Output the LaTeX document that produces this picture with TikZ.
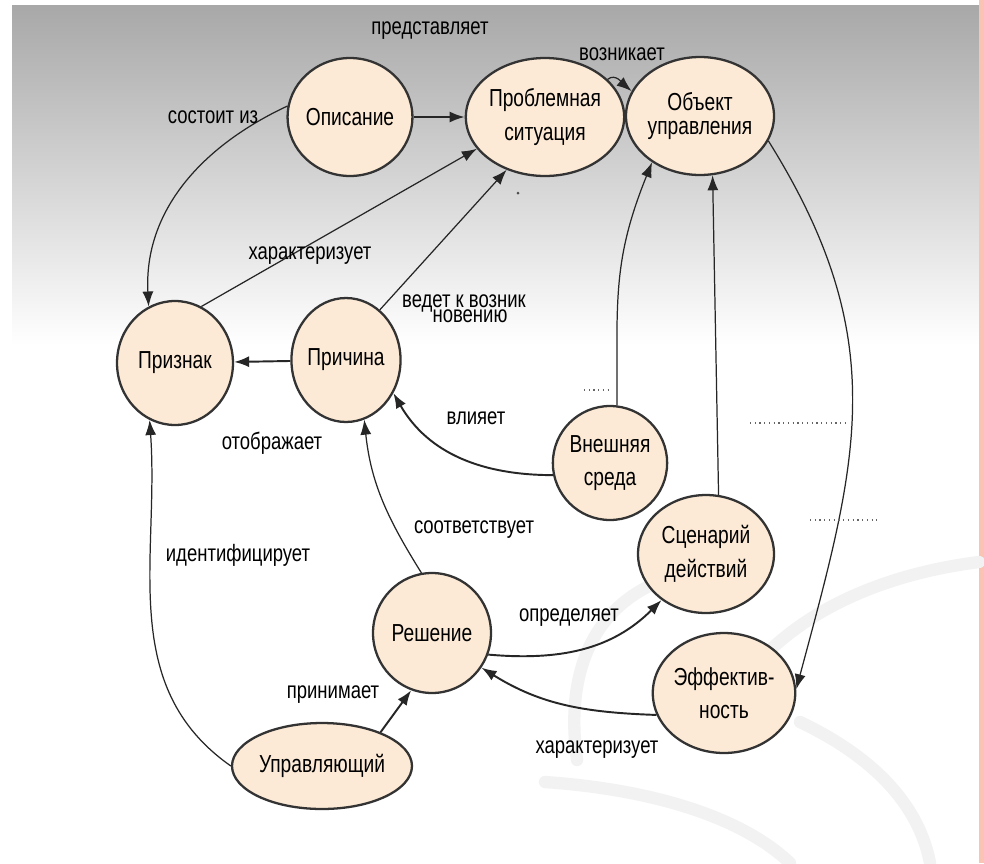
\documentclass[tikz,border=0pt]{standalone}
\usepackage{fontspec}
\setmainfont{Liberation Sans}[FakeStretch=0.78]
\definecolor{conceptfill}{RGB}{252,234,214}
\definecolor{bgtop}{RGB}{168,168,168}
\definecolor{edgepink}{RGB}{250,196,180}
\definecolor{swoosh}{RGB}{242,242,242}
\usetikzlibrary{arrows.meta, shapes.geometric}
\tikzset{
	concept/.style={ellipse, draw=black!80, line width=1.3pt, fill=conceptfill, align=center, inner sep=0pt, font=\fontsize{14}{19}\selectfont},
	lbl/.style={inner sep=0pt, font=\fontsize{13.5}{15}\selectfont},
	arrow/.style={-{Latex[length=3mm, width=2.2mm]}, line width=1.1pt, draw=black!85},
	thinarrow/.style={-{Latex[length=3mm, width=2.2mm]}, line width=0.7pt, draw=black!85},
	strokemark/.style={dotted, line width=0.7pt, draw=black!60},
	swooshline/.style={line width=7pt, draw=swoosh, line cap=round},
}

\begin{document}
\begin{tikzpicture}[x=0.02cm, y=0.02cm]
		\useasboundingbox (0,0) rectangle (984,-863);
		\fill[white] (0,0) rectangle (984,-863);
		\shade[top color=bgtop, bottom color=white] (12,-5) rectangle (979,-345);
		\fill[edgepink] (979,0) rectangle (984,-863);
		\draw[swooshline] (577,-760) .. controls (562,-650) and (610,-585) .. (700,-570);
		\draw[swooshline] (765,-655) .. controls (820,-600) and (900,-572) .. (979,-562);
		\draw[swooshline] (545,-782) .. controls (660,-790) and (745,-820) .. (790,-863);
		\draw[swooshline] (800,-722) .. controls (880,-760) and (920,-810) .. (930,-863);

		\node[concept, minimum width=2.12cm, minimum height=2.36cm] (opis) at (350,-117) {Описание};
		\node[concept, minimum width=2.6cm, minimum height=2.36cm] (prob) at (545,-117) {Проблемная\\ситуация};
		\node[concept, minimum width=2.68cm, minimum height=2.36cm, font=\fontsize{14}{14}\selectfont] (obj) at (700,-116) {Объект\\управления};
		\node[concept, minimum width=2.32cm, minimum height=2.48cm] (priz) at (175,-363) {Признак};
		\node[concept, minimum width=2.16cm, minimum height=2.48cm] (prich) at (346,-360) {Причина};
		\node[concept, minimum width=2.28cm, minimum height=2.28cm] (sreda) at (610,-463) {Внешняя\\среда};
		\node[concept, minimum width=2.72cm, minimum height=2.36cm] (scen) at (706,-554) {Сценарий\\действий};
		\node[concept, minimum width=2.36cm, minimum height=2.4cm] (resh) at (432,-633) {Решение};
		\node[concept, minimum width=3.6cm, minimum height=1.72cm] (upr) at (322,-766) {Управляющий};
		\node[concept, minimum width=2.36cm, minimum height=2.4cm] (eff) at (724,-693) {Эффектив-\\ность};

		\draw[thinarrow] (opis.170) to[out=205, in=93] (priz.115);
		\draw[arrow] (opis) -- (prob);
		\draw[thinarrow] (prob.31) to[out=40, in=140] (obj.160);
		\draw[thinarrow] (priz.65) -- (prob.205);
		\draw[thinarrow] (prich.56) -- (prob.234);
		\draw[arrow] (prich) -- (priz);
		\draw[thinarrow] (sreda.83) to[out=90, in=248, looseness=1.1] (obj.224);
		\draw[arrow] (sreda.192) to[out=180, in=-60] (prich.325);
		\draw[thinarrow] (scen.78) -- (obj.282);
		\draw[thinarrow] (obj.-20) to[out=-58, in=75, looseness=1.1] (eff.3);
		\draw[thinarrow] (resh.100) to[out=122, in=-84] (prich.287);
		\draw[arrow] (resh.-21) to[out=-5, in=225] (scen.226);
		\draw[arrow] (eff.198) to[out=178, in=-32] (resh.325);
		\draw[arrow] (upr.30) -- (resh.250);
		\draw[thinarrow] (upr.west) to[out=145, in=-86] (priz.246);

		\node[lbl] (l-sost) at (213,-117) {состоит из};
		\node[lbl] (l-pred) at (430,-31) {представляет};
		\node[lbl] (l-vozn) at (622,-54) {возникает};
		\node[lbl] (l-char1) at (310,-256) {характеризует};
		\node[lbl] (l-vedet) at (464,-303) {ведет к возник};
		\node[lbl] (l-nov) at (470,-316) {новению};
		\node[lbl] (l-otob) at (272,-443) {отображает};
		\node[lbl] (l-vliyaet) at (476,-418) {влияет};
		\node[lbl] (l-sootv) at (474,-530) {соответствует};
		\node[lbl] (l-ident) at (238,-555) {идентифицирует};
		\node[lbl] (l-opred) at (569,-618) {определяет};
		\node[lbl] (l-prin) at (333,-695) {принимает};
		\node[lbl] (l-char2) at (597,-750) {характеризует};

		\coordinate (m1a) at (584,-390);
		\coordinate (m1b) at (608,-390);
		\coordinate (m2a) at (750,-423);
		\coordinate (m2b) at (848,-423);
		\coordinate (m3a) at (810,-520);
		\coordinate (m3b) at (877,-520);
		\draw[strokemark] (m1a) -- (m1b);
		\draw[strokemark] (m2a) -- (m2b);
		\draw[strokemark] (m3a) -- (m3b);
		\fill[black!70] (518,-193) circle (1.5);
	\end{tikzpicture}
\end{document}
